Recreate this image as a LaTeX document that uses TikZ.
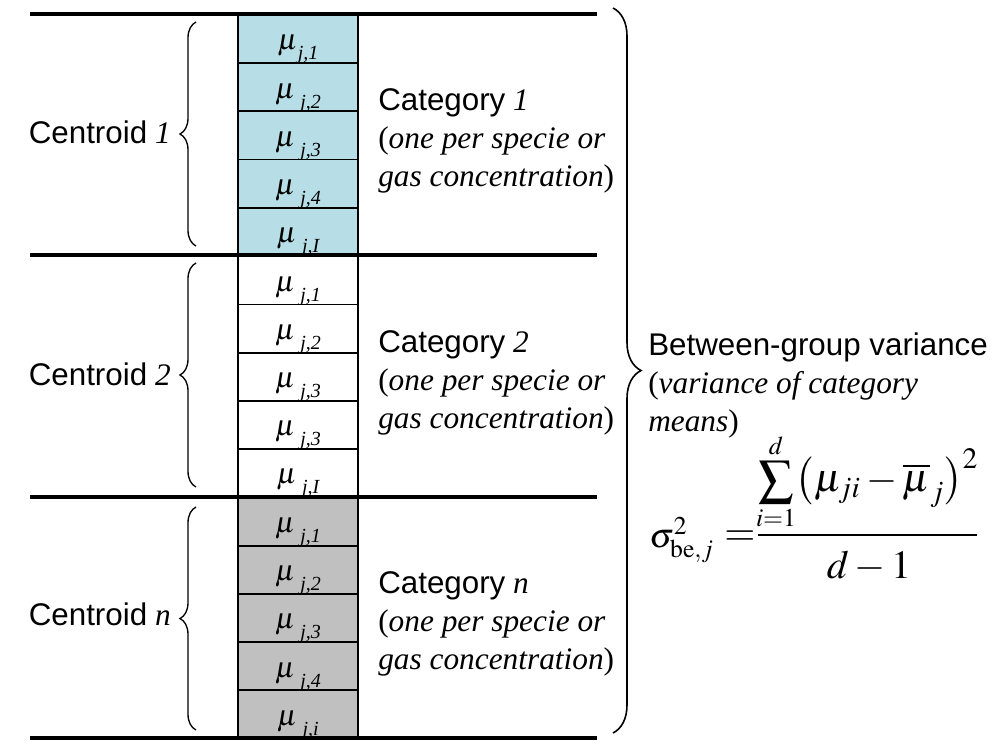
\documentclass[tikz,border=0pt]{standalone}
\usepackage{mathptmx}
\usepackage{fontspec}
\setmainfont{Liberation Serif}
\newfontfamily\arialfont{Liberation Sans}
\usepackage{tikz}
\usetikzlibrary{positioning,decorations.pathreplacing}

\definecolor{catblue}{RGB}{183,222,230}
\definecolor{catgray}{RGB}{192,192,192}

% mu label of one cell: gap, subscript
\newcommand{\mulab}[2]{{\fontsize{22}{22}\selectfont$\mu$}#1\raisebox{-7.5pt}{\fontsize{15}{15}\selectfont\itshape #2}}

\begin{document}
\begin{tikzpicture}[x=0.75pt,y=-0.75pt,
  cell/.style={draw, line width=1.4pt, minimum width=90pt, minimum height=36.15pt,
    inner sep=0pt, text height=26.15pt, text depth=10pt, anchor=north},
  sepline/.style={line width=3pt},
  lbrace/.style={decorate, decoration={brace, amplitude=12pt}, line width=1pt},
  bigbrace/.style={decorate, decoration={brace, amplitude=21pt}, line width=1.2pt},
  txt/.style={font=\fontsize{23.5}{28.5}\selectfont, inner sep=0pt, align=left},
  fml/.style={inner sep=0pt, font=\fontsize{30}{36}\selectfont}
]
\useasboundingbox (0,0) rectangle (993,744);

% column of cells
\foreach \g/\fillc/\a/\b in {0/catblue/4/I, 1/white/3/I, 2/catgray/4/i}{
  \foreach \k/\s in {1/1, 2/2, 3/3, 4/\a, 5/\b}{
    \node[cell, fill=\fillc] (c-\g-\k) at (298, 14+241.3*\g+48.2*\k-48.2)
      {\mulab{\ifnum\g\k=1 \else\hspace{4pt}\fi}{j,\s}};
  }
}

% group separators
\foreach \y in {14, 254.5, 497, 738}
  \draw[sepline] (30,\y) -- (597,\y);

% centroid braces and labels
\draw[lbrace] (196,246) -- (196,22);
\draw[lbrace] (196,487) -- (196,263);
\draw[lbrace] (196,730) -- (196,507);
\node[txt, anchor=east] (cent1) at (171,132) {{\arialfont Centroid} \textit{1}};
\node[txt, anchor=east] (cent2) at (171,374) {{\arialfont Centroid} \textit{2}};
\node[txt, anchor=east] (cent3) at (171,614) {{\arialfont Centroid} \textit{n}};

% category labels
\node[txt, anchor=west] (cat1) at (378,141) {{\arialfont Category} \textit{1}\\(\textit{one per specie or}\\\textit{gas concentration})};
\node[txt, anchor=west] (cat2) at (378,383) {{\arialfont Category} \textit{2}\\(\textit{one per specie or}\\\textit{gas concentration})};
\node[txt, anchor=west] (cat3) at (378,624) {{\arialfont Category} \textit{n}\\(\textit{one per specie or}\\\textit{gas concentration})};

% between-group variance
\draw[bigbrace] (613,8) -- (613,733);
\node[txt, anchor=north west] (betw) at (648,333) {{\arialfont Between-group variance}\\(\textit{variance of category}\\\textit{means})};

% formula
\node[fml, font=\fontsize{26}{32}\selectfont, anchor=base west] (sig) at (649,547) {$\sigma^{2}_{\mathrm{be},j}$};
\node[fml] (eq) at (740,538) {$=$};
\node[fml, anchor=south] (num) at (867,531)
  {{\fontsize{26}{30}\selectfont$\displaystyle\sum_{i=1}^{d}$}$\bigl(\mu_{ji}-\overline{\mu}_{j}\bigr)^{2}$};
\node[fml, anchor=north] (den) at (869,551) {$d-1$};
\coordinate (barL) at (758,535);
\coordinate (barR) at (977,535);
\draw[line width=1.1pt] (barL) -- (barR);
\end{tikzpicture}
\end{document}
